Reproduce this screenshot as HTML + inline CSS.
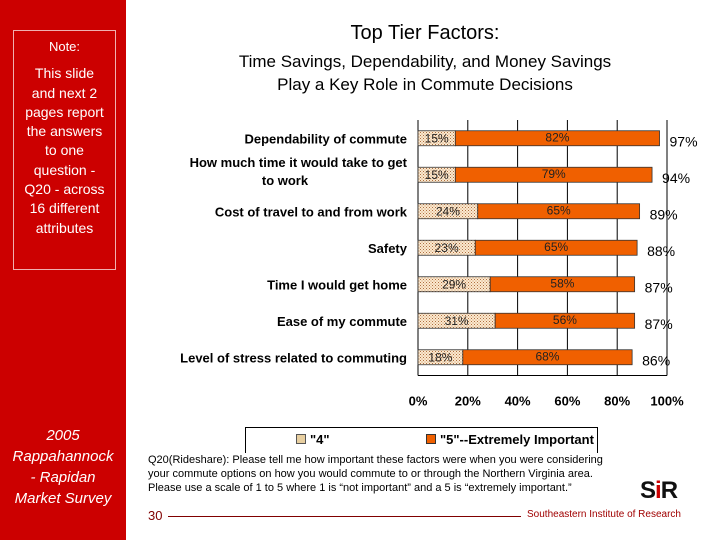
<!DOCTYPE html>
<html><head><meta charset="utf-8"><style>
body{margin:0;width:720px;height:540px;overflow:hidden;background:#fff;font-family:"Liberation Sans","DejaVu Sans",sans-serif;position:relative}
.abs{position:absolute}
</style></head><body>
<div class="abs" style="left:0;top:0;width:126px;height:540px;background:#cc0000"></div>
<div class="abs" style="left:13px;top:30px;width:101px;height:238px;border:1px solid #f0b0b0;color:#fff;text-align:center;font-size:14px;line-height:19.3px">
<div style="margin-top:6px;font-size:13px">Note:</div>
<div style="margin-top:8px;padding:0 10px">This slide and next 2 pages report the answers to one question - Q20 - across 16 different attributes</div>
</div>
<div class="abs" style="left:0;top:425px;width:126px;text-align:center;color:#fff;font-style:italic;font-size:15px;line-height:21px">2005<br>Rappahannock<br>- Rapidan<br>Market Survey</div>
<div class="abs" style="left:130px;top:22px;width:590px;text-align:center;font-size:20px">Top Tier Factors:</div>
<div class="abs" style="left:130px;top:50px;width:590px;text-align:center;font-size:17px;line-height:23px">Time Savings, Dependability, and Money Savings<br>Play a Key Role in Commute Decisions</div>
<svg class="abs" style="left:0;top:0" width="720" height="540" id="chart">
<defs><pattern id="dots" width="3" height="3" patternUnits="userSpaceOnUse"><rect width="3" height="3" fill="#fbe9d0"/><rect width="1" height="1" fill="#b07040"/><rect x="1.5" y="1.5" width="1" height="1" fill="#c89060"/></pattern></defs>
</svg>
<div class="abs" style="left:245px;top:427px;width:351px;height:25px;border:1px solid #000;border-bottom:none;background:#fff;font-weight:bold;font-size:13px">
<span class="abs" style="left:50px;top:4px"><span style="display:inline-block;width:8px;height:8px;border:1px solid #555;background:#e8cfa0;margin-right:4px"></span>"4"</span>
<span class="abs" style="left:180px;top:4px"><span style="display:inline-block;width:8px;height:8px;border:1px solid #333;background:#f06000;margin-right:4px"></span>"5"--Extremely Important</span>
</div>
<div class="abs" style="left:148px;top:453px;width:470px;font-size:11px;line-height:14px;background:#fff">Q20(Rideshare): Please tell me how important these factors were when you were considering your commute options on how you would commute to or through the Northern Virginia area. Please use a scale of 1 to 5 where 1 is “not important” and a 5 is “extremely important.”</div>
<div class="abs" style="left:148px;top:508px;font-size:13px;color:#800000">30</div>
<div class="abs" style="left:168px;top:516px;width:353px;height:1px;background:#800000"></div>
<div class="abs" style="left:527px;top:509px;font-size:10px;color:#a00000">Southeastern Institute of Research</div>
<div class="abs" style="left:640px;top:477px;font-weight:bold;font-size:24px;letter-spacing:-1px;color:#111">S<span style="color:#c00">i</span>R</div>
<script>
const categories=["Dependability of commute","How much time it would take to get|to work","Cost of travel to and from work","Safety","Time I would get home","Ease of my commute","Level of stress related to commuting"];
const series4=[15,15,24,23,29,31,18];
const series5=[82,79,65,65,58,56,68];
const totals=[97,94,89,88,87,87,86];
const ticks=[0,20,40,60,80,100];
const svg=document.getElementById('chart');
const NS='http://www.w3.org/2000/svg';
const x0=418,x1=667,top0=120,band=36.5;
const xs=v=>x0+(x1-x0)*v/100;
const yc=i=>top0+band*(i+0.5);
function mk(t,a){const e=document.createElementNS(NS,t);for(const k in a)e.setAttribute(k,a[k]);svg.appendChild(e);return e;}
ticks.forEach(t=>{
 if(t>0){const g=mk('line',{x1:xs(t),x2:xs(t),y1:top0,y2:top0+band*7,stroke:'#000','stroke-width':1});}
 const l=mk('text',{x:xs(t),y:top0+band*7+30,'text-anchor':'middle','font-size':13,'font-weight':'bold'});l.textContent=t+'%';
 
 
});
const ax=mk('line',{x1:x0,x2:x0,y1:top0,y2:top0+band*7,stroke:'#000'});


const bx=mk('line',{x1:x0,x2:x1,y1:top0+band*7,y2:top0+band*7,stroke:'#000'});


categories.forEach((c,i)=>{
 const y=yc(i),h=15;
 const lines=c.split('|');
 lines.forEach((ln,j)=>{const t=mk('text',{x:lines.length>1&&j==1?285:407,y:y+5+(j-(lines.length-1)/2)*18 - (lines.length>1?4:0),'text-anchor':lines.length>1&&j==1?'middle':'end','font-size':13,'font-weight':'bold'});t.textContent=ln;
 
 });
 const r4=mk('rect',{x:xs(0),y:y-h/2,width:xs(series4[i])-xs(0),height:h,fill:'url(#dots)',stroke:'#333','stroke-width':0.8});
 
 
 const r5=mk('rect',{x:xs(series4[i]),y:y-h/2,width:xs(series4[i]+series5[i])-xs(series4[i]),height:h,fill:'#f06000',stroke:'#333','stroke-width':0.8});
 
 
 const t4=mk('text',{x:(xs(0)+xs(series4[i]))/2,y:y+4,'text-anchor':'middle','font-size':12,fill:'#222'});t4.textContent=series4[i]+'%';
 
 
 const t5=mk('text',{x:(xs(series4[i])+xs(series4[i]+series5[i]))/2,y:y+3,'text-anchor':'middle','font-size':12,fill:'#222'});t5.textContent=series5[i]+'%';
 
 
 const tt=mk('text',{x:xs(totals[i])+10,y:y+8,'font-size':14});tt.textContent=totals[i]+'%';
 
 
});
</script>
</body></html>
